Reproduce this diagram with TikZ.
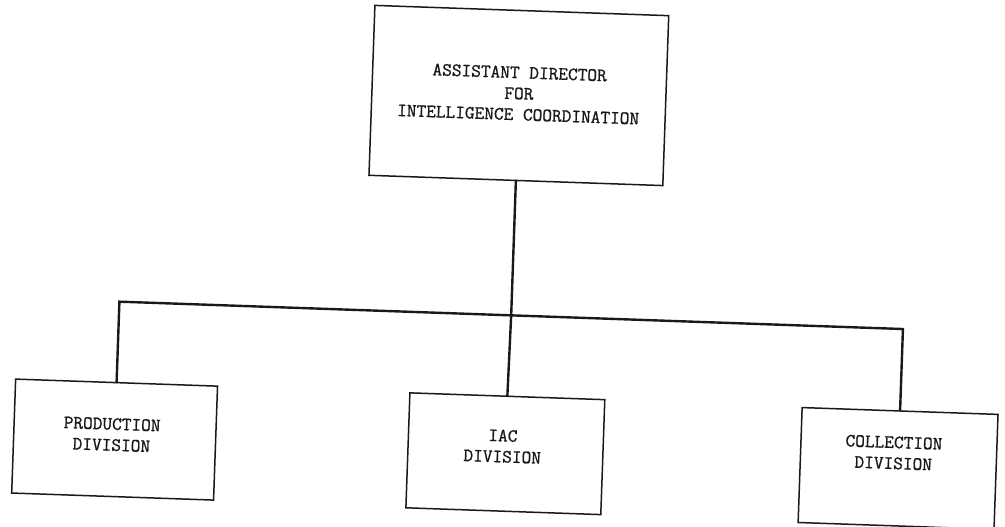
\documentclass[tikz,border=0pt]{standalone}
\usepackage{fontspec}
\newfontfamily\typefont{Latin Modern Mono}[FakeBold=1]
\begin{document}
\begin{tikzpicture}[x=1pt,y=-1pt,
  box/.style={draw=black!90, line width=1.5pt, inner sep=0pt, fill=none},
  lbl/.style={font=\fontsize{18.8}{21}\selectfont\typefont, align=center, text=black!90, inner sep=0pt},
  conn/.style={draw=black!90, line width=2.4pt, line cap=rect}]
\useasboundingbox (0,0) rectangle (1005,527);
\begin{scope}[rotate around={-2:(502,263)}, transform shape]
  \node[box, minimum width=294pt, minimum height=170pt] (top) at (513,95) {};
  \node[box, minimum width=202pt, minimum height=114pt] (prod) at (121,453) {};
  \node[box, minimum width=195pt, minimum height=115pt] (iac) at (512,453.5) {};
  \node[box, minimum width=196pt, minimum height=115pt] (coll) at (905,454.5) {};
  \node[lbl] (toptxt) at (513,93) {ASSISTANT DIRECTOR\\FOR\\INTELLIGENCE COORDINATION};
  \node[lbl] (prodtxt) at (118,448) {PRODUCTION\\DIVISION};
  \node[lbl] (iactxt) at (509,446) {IAC\\DIVISION};
  \node[lbl] (colltxt) at (900,439) {COLLECTION\\DIVISION};
  \coordinate (hl) at (121,315);
  \coordinate (hub) at (513,315);
  \coordinate (hr) at (905,315);
  \draw[conn] (prod.north) -- (hl) -- (hr) -- (coll.north);
  \draw[conn] (top.south) -- (hub) -- (iac.north);
\end{scope}
\end{tikzpicture}
\end{document}
